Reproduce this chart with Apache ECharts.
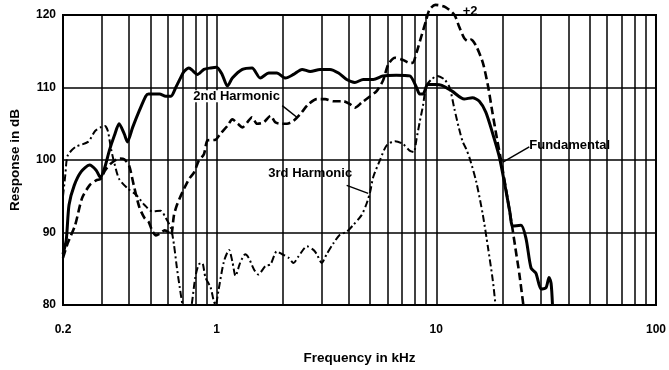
<!DOCTYPE html>
<html><head><meta charset="utf-8">
<script src="https://cdn.jsdelivr.net/npm/echarts@6/dist/echarts.min.js"></script>
<style>html,body{margin:0;padding:0;background:#fff}#c{width:669px;height:370px}</style>
</head><body><div id="c"></div>
<script>
// Frequency grid lines (kHz)
const gridFreqs = [0.3,0.4,0.5,0.6,0.7,0.8,0.9,1,2,3,4,5,6,7,8,9,10,20,30,40,50,60,70,80,90];
// Fundamental
const fundFreq = [0.2,0.207,0.213,0.225,0.242,0.264,0.283,0.296,0.31,0.325,0.343,0.36,0.38,0.393,0.415,0.445,0.476,0.49,0.55,0.587,0.62,0.652,0.69,0.711,0.749,0.78,0.818,0.876,0.94,1.0,1.06,1.12,1.18,1.31,1.45,1.58,1.73,1.88,2.06,2.24,2.45,2.67,2.96,3.28,3.59,3.91,4.26,4.65,5.17,5.72,6.57,7.57,8.13,8.4,8.7,9.14,9.9,10.6,11.8,13.4,14.6,15.7,16.8,18.0,19.3,20.4,21.6,22.3,24.3,25.6,27.0,28.4,30.0,31.6,32.6,33.3,33.8];
const fundDb = [87,89,93.8,96.5,98.4,99.3,98.6,97.6,99,101.3,103.4,105,103.6,102.5,104.5,106.8,108.8,109.1,109.1,108.8,108.8,110,111.5,112.2,112.7,112.3,111.8,112.5,112.7,112.8,111.8,110.2,111.3,112.5,112.7,111.3,112,112,111.3,111.8,112.5,112.2,112.5,112.5,112,111.1,110.7,111.1,111.1,111.6,111.7,111.6,110,109.1,109.1,110.4,110.4,110.3,109.5,108.4,108.6,108.1,106.6,103.8,100.6,97,92.9,90.9,91,89.2,85.1,84.4,82.2,82.4,83.8,83,80];
// 2nd Harmonic
const h2Freq = [0.2,0.21,0.227,0.244,0.264,0.283,0.297,0.31,0.33,0.36,0.38,0.40,0.42,0.445,0.47,0.49,0.51,0.53,0.555,0.58,0.60,0.62,0.64,0.66,0.70,0.75,0.79,0.83,0.876,0.91,0.99,1.04,1.12,1.18,1.25,1.31,1.38,1.45,1.53,1.64,1.76,1.85,1.95,2.09,2.24,2.40,2.62,2.86,3.12,3.40,3.78,4.05,4.26,4.57,5.0,5.35,5.73,6.05,6.49,7.06,7.56,7.8,8.13,8.54,9.0,9.3,9.9,11.0,12.1,12.7,13.4,13.9,14.4,15.2,16.3,17.2,18.0,18.9,19.7,21.1,22.2,22.9,23.9,24.9];
const h2Db = [86.5,88.5,91,94.7,96.5,97.2,97.4,98.5,99.5,100.2,100.1,99.2,96.5,93.5,92,91.5,90.2,89.6,89.9,90.3,90.1,89.6,92.4,93.8,95.6,97.4,98.3,99.9,100.8,102.7,102.8,103.6,104.7,105.6,105,104.5,105.2,105.9,105,105.2,106.1,105.2,105,105,105.4,106.3,107.7,108.4,108.4,108.1,108.1,107.7,107.2,107.9,108.8,109.5,111,113.2,114.1,113.8,113.4,113.4,114.8,117,119.3,120.7,121.4,121.1,120,118.4,116.8,116.4,116.6,115.7,113.4,110.2,106.6,102.9,100,94.7,90.6,87.9,84.2,80];
// 3rd Harmonic
const h3Freq = [0.2,0.205,0.21,0.228,0.26,0.28,0.296,0.31,0.32,0.331,0.343,0.36,0.393,0.43,0.47,0.51,0.557,0.587,0.62,0.64,0.66,0.68,0.70,0.735,0.77,0.8,0.83,0.86,0.89,0.94,0.97,0.99,1.02,1.08,1.14,1.18,1.22,1.28,1.35,1.40,1.48,1.55,1.67,1.76,1.88,1.99,2.13,2.24,2.36,2.58,2.76,2.86,3.01,3.17,3.40,3.64,3.91,4.18,4.57,4.82,5.0,5.17,5.53,5.94,6.49,7.06,7.56,7.9,8.13,8.4,8.7,9.0,9.5,10.1,10.9,11.5,12.1,12.7,13.2,13.7,14.2,15.2,16.3,17.2,18.1,18.6];
const h3Db = [95,98,100.6,101.8,102.5,104,104.5,104.7,104,101.5,99.5,97.4,96.1,95.2,93.8,92.9,93,92,90.6,88.3,85.1,82.4,80,77,80,83.8,85.6,85.8,83.8,82.4,80.6,80,82,86,87.6,86,84,85.8,87,86.5,84.9,84.2,85.4,85.6,87.4,87,86.5,85.8,86.7,88.1,87.6,87,85.8,87,88.5,89.7,90.1,91,92.4,94,95.6,97.7,99.9,102,102.6,102.2,101.3,101.1,102.9,105.2,107.5,110.2,111.1,111.6,111.1,110,107,104.3,102.5,101.5,100.2,97,92.4,87.9,83.3,80];
// Axis ticks
const yTicks = [80,90,100,110,120];
const xLabels = ['0.2','1','10','100'];

const zip = (a,b) => a.map((v,i)=>[v,b[i]]);
const FONT = 'Liberation Sans';
const chart = echarts.init(document.getElementById('c'), null, {renderer:'canvas'});
const option = {
  backgroundColor:'#fff',
  animation:false,
  grid:{left:62.5,right:11,top:15,bottom:62.5,show:true,borderColor:'#000',borderWidth:2,backgroundColor:'transparent'},
  xAxis:{type:'log',logBase:10,min:0.2,max:100,
    name:'Frequency in kHz',nameLocation:'middle',nameGap:46,
    nameTextStyle:{fontFamily:FONT,fontWeight:'bold',fontSize:13.5,color:'#000'},
    axisLine:{show:false},axisTick:{show:false},splitLine:{show:false},minorSplitLine:{show:false},
    axisLabel:{margin:19,fontFamily:FONT,fontWeight:'bold',fontSize:12,color:'#000',showMinLabel:true,showMaxLabel:true,
      formatter:v=>{const s=String(+v.toPrecision(3));return xLabels.includes(s)?s:'';}}
  },
  yAxis:{type:'value',min:yTicks[0],max:yTicks[yTicks.length-1],interval:10,
    name:'Response in dB',nameLocation:'middle',nameGap:41,nameRotate:90,
    nameTextStyle:{fontFamily:FONT,fontWeight:'bold',fontSize:13.5,color:'#000'},
    axisLine:{show:false},axisTick:{show:false},
    splitLine:{show:true,lineStyle:{color:'#000',width:1.5}},
    axisLabel:{margin:7,fontFamily:FONT,fontWeight:'bold',fontSize:12,color:'#000'}
  },
  series:[
    {type:'line',name:'grid',data:[[1,100]],symbol:'none',lineStyle:{opacity:0},z:1,silent:true,
      markLine:{silent:true,symbol:['none','none'],label:{show:false},animation:false,
        lineStyle:{type:'solid',color:'#000',width:1.5},
        data:gridFreqs.map(f=>({xAxis:f}))}},
    {type:'line',name:'3rd Harmonic',data:zip(h3Freq,h3Db),symbol:'none',smooth:0.25,clip:true,z:5,
      lineStyle:{color:'#000',width:2,type:[7,3,2,3]}},
    {type:'line',name:'2nd Harmonic',data:zip(h2Freq,h2Db),symbol:'none',smooth:0.25,clip:false,z:6,
      lineStyle:{color:'#000',width:2.6,type:[8,4]}},
    {type:'line',name:'Fundamental',data:zip(fundFreq,fundDb),symbol:'none',smooth:0.25,clip:true,z:7,
      lineStyle:{color:'#000',width:3}}
  ]
};
chart.setOption(option);
const P = (f,d) => chart.convertToPixel({gridIndex:0},[f,d]);
const txt = (p,s,align) => ({type:'text',x:p[0],y:p[1],z:20,style:{text:s,fill:'#000',font:'bold 13px "'+FONT+'"',align:align||'left',verticalAlign:'middle'}});
const seg = (a,b) => ({type:'line',z:20,shape:{x1:a[0],y1:a[1],x2:b[0],y2:b[1]},style:{stroke:'#000',lineWidth:1.5}});
const lab2 = P(0.783,108.8), lab3 = P(1.72,98.1), labF = P(26.5,101.95), labP = P(13.2,120.45);
chart.setOption({graphic:[
  {type:'rect',z:19,shape:{x:lab2[0]-1,y:lab2[1]-6,width:89,height:12},style:{fill:'#fff'}},
  txt(lab2,'2nd Harmonic'),
  seg(P(1.99,107.5), P(2.32,105.9)),
  txt(lab3,'3rd Harmonic'),
  seg(P(3.91,96.5), P(4.9,95.4)),
  txt(labF,'Fundamental'),
  seg(P(26.5,101.8), P(20.1,99.7)),
  txt(labP,'+2')
]});
</script></body></html>
